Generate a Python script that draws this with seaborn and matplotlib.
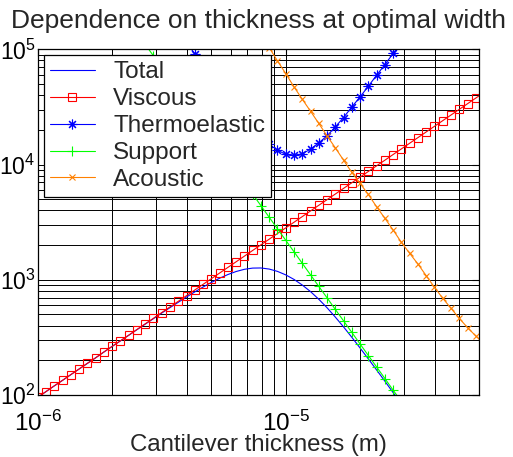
import matplotlib
matplotlib.use("Agg")
import matplotlib.pyplot as plt
import seaborn as sns
from matplotlib.ticker import LogLocator, NullFormatter

# cantilever thickness (m) at the sampled points
thickness = [1.000e-6, 1.080e-6, 1.166e-6, 1.259e-6, 1.359e-6, 1.468e-6, 1.585e-6, 1.711e-6, 1.848e-6, 1.995e-6,
             2.154e-6, 2.326e-6, 2.512e-6, 2.712e-6, 2.929e-6, 3.162e-6, 3.415e-6, 3.687e-6, 3.981e-6, 4.299e-6,
             4.642e-6, 5.012e-6, 5.412e-6, 5.843e-6, 6.310e-6, 6.813e-6, 7.356e-6, 7.943e-6, 8.577e-6, 9.261e-6,
             1.000e-5, 1.080e-5, 1.166e-5, 1.259e-5, 1.359e-5, 1.468e-5, 1.585e-5, 1.711e-5, 1.848e-5, 1.995e-5,
             2.154e-5, 2.326e-5, 2.512e-5, 2.712e-5, 2.929e-5, 3.162e-5, 3.415e-5, 3.687e-5, 3.981e-5, 4.299e-5,
             4.642e-5, 5.012e-5, 5.412e-5, 5.843e-5, 6.310e-5]

total = [95.5, 107.0, 119.9, 133.9, 150.0, 167.9, 187.9, 209.9, 235.8, 263.7,
         294.5, 329.2, 368.7, 411.9, 459.8, 513.9, 573.0, 637.5, 708.4, 784.3,
         864.4, 947.5, 1030.7, 1109.4, 1179.2, 1232.3, 1262.5, 1265.8, 1238.2, 1182.5,
         1102.9, 1007.1, 900.6, 789.5, 678.0, 571.7, 474.5, 389.9, 316.6, 255.7,
         205.6, 164.8, 131.7, 104.7, 83.6, 66.6, 53.0, 42.2, 33.5, 26.6,
         21.2, 16.9, 13.4, 10.6, 8.5]

viscous = [95.5, 107, 120, 134, 150, 168, 188, 210, 236, 264,
           295, 330, 370, 414, 463, 519, 581, 650, 728, 815,
           912, 1021, 1143, 1279, 1432, 1603, 1795, 2009, 2249, 2518,
           2818, 3155, 3532, 3954, 4426, 4955, 5546, 6209, 6950, 7780,
           8710, 9750, 10910, 12220, 13680, 15310, 17140, 19190, 21480, 24040,
           26920, 30130, 33730, 37760, 42270]

thermoelastic = [7.24e6, 5.75e6, 4.57e6, 3.63e6, 2.88e6, 2.29e6, 1.82e6, 1.45e6, 1.15e6, 9.12e5,
                 7.24e5, 5.75e5, 4.57e5, 3.63e5, 2.88e5, 2.29e5, 1.82e5, 1.45e5, 1.15e5, 91200,
                 72400, 57500, 46800, 38000, 30900, 25100, 20650, 17380, 14960, 13340,
                 12250, 12000, 12390, 13610, 15420, 17740, 21230, 25590, 31620, 38640,
                 47860, 59570, 73790, 92040, 1.148e5, 1.45e5, 1.82e5, 2.29e5, 2.88e5, 3.63e5,
                 4.57e5, 5.75e5, 7.24e5, 9.12e5, 1.15e6]

support = [2.203e6, 1.750e6, 1.390e6, 1.104e6, 8.77e5, 6.97e5, 5.53e5, 4.40e5, 3.49e5, 2.77e5,
           2.203e5, 1.750e5, 1.390e5, 1.104e5, 87700, 69700, 55300, 44000, 34900, 27700,
           22030, 17500, 13900, 11040, 8770, 6970, 5530, 4400, 3490, 2770,
           2203, 1750, 1390, 1104, 877, 697, 553, 440, 349, 277,
           220, 175, 139, 110, 87.7, 69.7, 55.3, 44.0, 34.9, 27.7,
           22.0, 17.5, 13.9, 11.0, 8.77]

acoustic = [1.718e8, 1.318e8, 1.012e8, 7.76e7, 5.96e7, 4.57e7, 3.51e7, 2.69e7, 2.07e7, 1.585e7,
            1.216e7, 9.33e6, 7.16e6, 5.50e6, 4.22e6, 3.24e6, 2.48e6, 1.905e6, 1.462e6, 1.122e6,
            8.61e5, 6.61e5, 5.07e5, 3.89e5, 2.99e5, 2.29e5, 1.758e5, 1.349e5, 1.035e5, 79430,
            61660, 47210, 36900, 29040, 22750, 17740, 13960, 10910, 8531, 6855,
            5495, 4295, 3412, 2698, 2109, 1694, 1368, 1084, 859, 690,
            565, 462, 384, 325, 280]

sns.set_style("white")
plt.rcParams['font.family'] = ['Liberation Sans', 'DejaVu Sans']
plt.rcParams['axes.unicode_minus'] = False
plt.rcParams['mathtext.default'] = 'regular'

fig = plt.figure(figsize=(5.13, 4.57), dpi=100)
ax = fig.add_axes([0.0735, 0.1357, 0.8596, 0.7564])
ax.set_xscale('log')
ax.set_yscale('log')

# name, values, colour, marker, marker size
series = [
    ("Total", total, "#0000ff", None, 0),
    ("Viscous", viscous, "#ff0000", "s", 5.5),
    ("Thermoelastic", thermoelastic, "#0000ff", (8, 2, 0), 7),
    ("Support", support, "#00ff00", "+", 7),
    ("Acoustic", acoustic, "#ff8000", "x", 5),
]

for name, vals, color, marker, ms in series:
    kw = dict(color=color, linewidth=0.8, label=name)
    if marker is not None:
        kw.update(marker=marker, markersize=ms, markerfacecolor='none',
                  markeredgecolor=color, markeredgewidth=0.8)
    sns.lineplot(x=thickness, y=vals, ax=ax, estimator=None, sort=False, **kw)

ax.set_xlim(1e-6, 6e-5)
ax.set_ylim(1e2, 1e5)
ax.xaxis.set_major_locator(LogLocator(base=10))
ax.xaxis.set_minor_locator(LogLocator(base=10, subs=range(2, 10)))
ax.yaxis.set_minor_locator(LogLocator(base=10, subs=range(2, 10)))
ax.xaxis.set_minor_formatter(NullFormatter())
ax.yaxis.set_minor_formatter(NullFormatter())

ax.grid(True, which='both', color='black', linewidth=0.7)
ax.set_axisbelow(True)
for s in ax.spines.values():
    s.set_color('black')
    s.set_linewidth(0.9)

ax.tick_params(which='both', direction='in', top=True, right=True, colors='black')
ax.tick_params(axis='x', which='major', labelsize=17.5, pad=11, length=5)
ax.tick_params(axis='y', which='major', labelsize=16.5, pad=1.5, length=5)
ax.tick_params(which='minor', length=3)

ax.set_xlabel('Cantilever thickness (m)', fontsize=17.3, labelpad=-1)
ax.set_ylabel('')
ax.set_title('Dependence on thickness at optimal width', fontsize=19, pad=15)

leg = ax.legend(loc='upper left', fontsize=17.5, fancybox=False, framealpha=1,
                edgecolor='black', handlelength=1.85, handletextpad=0.75,
                borderaxespad=0.25, labelspacing=0.2, borderpad=0.25)
leg.get_frame().set_linewidth(0.9)

fig.savefig('out.png', dpi=100)
